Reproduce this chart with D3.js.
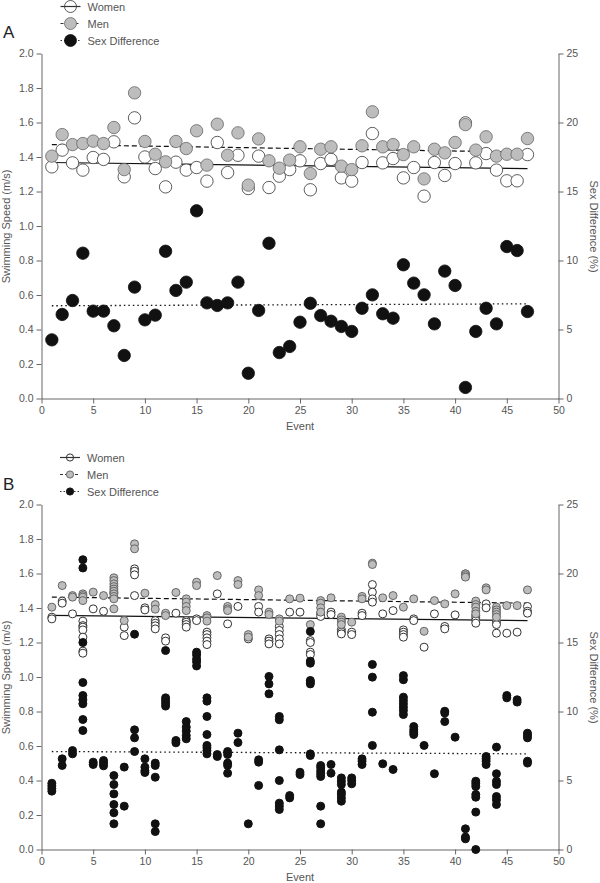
<!DOCTYPE html>
<meta charset="utf-8">
<style>
body { margin: 0; background: #fff; }
svg { display: block; font-family: "Liberation Sans", Arial, sans-serif; }
.axis path, .axis line { stroke: #666; stroke-width: 1; }
.axis text { fill: #555; font-size: 10.5px; }
.lbl { fill: #555; font-size: 11px; }
</style>
<body>
<script src="https://d3js.org/d3.v7.min.js"></script>
<script>

// ---- data ----
var events = d3.range(1, 48);

// panel A: one value per event
var womenA = [1.343, 1.44, 1.366, 1.324, 1.397, 1.386, 1.488, 1.285, 1.627, 1.40, 1.333, 1.227, 1.37, 1.324, 1.339, 1.26,
  1.484, 1.31, 1.41, 1.217, 1.405, 1.223, 1.289, 1.327, 1.378, 1.21, 1.362, 1.386, 1.279, 1.26, 1.368, 1.536,
  1.366, 1.391, 1.279, 1.339, 1.173, 1.368, 1.293, 1.362, 1.598, 1.366, 1.42, 1.324, 1.262, 1.262, 1.414];
var menA = [1.405, 1.53, 1.472, 1.478, 1.492, 1.478, 1.571, 1.327, 1.772, 1.49, 1.416, 1.372, 1.49, 1.449, 1.552, 1.353,
  1.59, 1.41, 1.54, 1.237, 1.505, 1.378, 1.335, 1.382, 1.459, 1.304, 1.445, 1.459, 1.347, 1.327, 1.465, 1.662,
  1.459, 1.472, 1.414, 1.459, 1.273, 1.445, 1.424, 1.484, 1.588, 1.44, 1.517, 1.405, 1.416, 1.416, 1.507];
var diffA = [4.25, 6.09, 7.1, 10.53, 6.33, 6.33, 5.27, 3.12, 8.07, 5.7, 6.04, 10.67, 7.83, 8.43, 13.6, 6.93,
  6.74, 6.93, 8.43, 1.83, 6.38, 11.25, 3.33, 3.77, 5.53, 6.9, 6.01, 5.6, 5.22, 4.86, 6.54, 7.51,
  6.14, 5.82, 9.69, 8.36, 7.51, 5.41, 9.23, 8.19, 0.8, 4.86, 6.54, 5.41, 11.01, 10.72, 6.3];

// panel B: several swims per event
var womenB = [[1.347, 1.337], [1.44, 1.428], [1.366], [1.324, 1.298, 1.289, 1.273, 1.231, 1.15, 1.138], [1.395],
  [1.381], [1.488], [1.289, 1.24], [1.627, 1.613, 1.592, 1.472], [1.401, 1.389], [1.327, 1.312, 1.297, 1.279],
  [1.227, 1.208], [1.37], [1.327, 1.318, 1.304, 1.289], [1.337, 1.327], [1.26, 1.246, 1.227, 1.208, 1.188],
  [1.482], [1.308], [1.409], [1.221], [1.409, 1.376], [1.221, 1.208, 1.192], [1.293, 1.27, 1.246, 1.221, 1.192],
  [1.376], [1.376], [1.211, 1.2, 1.144, 1.13], [1.366, 1.351], [1.376, 1.362], [1.275, 1.26, 1.25], [1.26, 1.246],
  [1.37, 1.356], [1.536, 1.492, 1.453, 1.434], [1.366], [1.385], [1.273, 1.26, 1.246, 1.231], [1.337, 1.327],
  [1.173], [1.366], [1.293, 1.279], [1.36], [1.598, 1.585], [1.356, 1.343, 1.327, 1.312], [1.424, 1.401],
  [1.318, 1.304, 1.254], [1.254], [1.26], [1.409, 1.381, 1.37]];
var menB = [[1.405], [1.53], [1.472, 1.463], [1.482, 1.472, 1.463, 1.443], [1.492], [1.472],
  [1.575, 1.559, 1.54, 1.524, 1.51, 1.497, 1.482, 1.467, 1.453, 1.395], [1.327], [1.772, 1.743], [1.486],
  [1.42, 1.393], [1.37, 1.356], [1.49], [1.453, 1.434, 1.409, 1.385], [1.55, 1.53], [1.356, 1.343, 1.324],
  [1.588], [1.409, 1.395, 1.385], [1.559, 1.536], [1.246, 1.231], [1.505, 1.472], [1.376, 1.362], [1.337, 1.324],
  [1.453], [1.457], [1.304], [1.443, 1.428, 1.401, 1.376], [1.459], [1.347, 1.331, 1.318, 1.304], [1.318],
  [1.467, 1.453], [1.66, 1.652], [1.459], [1.472], [1.405], [1.453], [1.265], [1.443], [1.424], [1.482],
  [1.598, 1.588, 1.579], [1.44, 1.42, 1.405, 1.381, 1.366], [1.517, 1.505], [1.405, 1.389, 1.376, 1.362, 1.347],
  [1.414], [1.414], [1.505]];
var diffB = [[4.8, 4.61, 4.42, 4.23], [6.57, 6.09], [7.17, 6.93], [21.0, 20.4, 15.0, 12.1, 11.16, 10.85, 10.56, 9.42, 8.62],
  [6.33, 6.16], [6.45, 6.26, 6.06], [5.36, 4.71, 4.03, 3.26, 2.66, 1.86], [5.97, 3.14], [15.6, 8.67, 8.09, 7.1],
  [6.57, 5.97, 5.72, 5.58], [6.26, 6.09, 5.24, 1.86, 1.3], [14.42, 10.99, 10.8, 10.6, 10.39], [7.9, 7.73],
  [9.27, 8.87, 8.58, 8.26, 8.02], [14.3, 14.1, 13.8, 13.6, 13.3], [10.99, 10.75, 9.64, 8.33, 7.54, 7.37, 7.17, 6.93],
  [6.88, 6.74], [7.1, 6.88, 6.26, 6.09, 5.53], [8.43, 7.75], [1.86], [6.5, 6.33, 4.64], [12.54, 12.0, 11.28],
  [9.64, 9.4, 7.22, 5.0, 3.36, 3.14, 2.9], [3.91, 3.74], [5.6, 5.43], [15.8, 13.65, 13.5, 12.25, 12.13, 12.0, 6.93, 6.81],
  [6.09, 5.92, 5.68, 5.49, 5.29, 3.14, 1.86], [6.16, 5.53], [5.19, 4.95, 4.71, 4.16, 3.99, 3.74, 3.5], [5.19, 5.0, 4.76],
  [6.57, 6.4, 6.16], [13.41, 12.49, 9.95, 7.54], [6.21], [5.8], [12.6, 12.3, 11.04, 10.8, 10.56, 10.31, 10.07, 9.78],
  [8.91, 8.67, 8.5, 8.33], [7.54], [5.49], [10.02, 9.89, 9.27], [8.14], [1.5, 0.9, 0.77],
  [4.95, 4.76, 4.57, 3.99, 3.79, 2.71, 0], [6.74, 6.57, 6.4, 6.16], [7.42, 5.49, 4.95, 4.71, 3.84, 3.6, 3.26],
  [11.16, 10.99], [10.85, 10.68], [8.43, 8.26, 8.09, 6.4, 6.26]];

// trend lines: value at first and last event
var trendEvents = [1, 47];
var trendA = { women: [1.368, 1.333], men: [1.472, 1.428], diff: [6.72, 6.86] };
var trendB = { women: [1.357, 1.327], men: [1.463, 1.428], diff: [7.1, 6.93] };

var legendNames = ["Women", "Men", "Sex Difference"];
var speedTicks = [0, 0.2, 0.4, 0.6, 0.8, 1.0, 1.2, 1.4, 1.6, 1.8, 2.0];
var diffTicks = [0, 5, 10, 15, 20, 25];
var eventTicks = [0, 5, 10, 15, 20, 25, 30, 35, 40, 45, 50];

// ---- drawing ----
var width = 600, height = 883;
var svg = d3.select("body").append("svg")
    .attr("width", width)
    .attr("height", height);

var x = d3.scaleLinear().domain([0, 50]).range([41.5, 558.5]);

var styles = {
  women: { fill: "#fff", stroke: "#333", dash: null },
  men: { fill: "#bdbdbd", stroke: "#666", dash: "5,3" },
  diff: { fill: "#111", stroke: "#111", dash: "1.5,3" }
};

function flatten(arr) {
  var out = [];
  arr.forEach(function(vals, i) {
    vals.forEach(function(v) { out.push({ e: events[i], v: v }); });
  });
  return out;
}

function panel(opt) {
  var g = svg.append("g");
  var y = d3.scaleLinear().domain([0, 2]).range([opt.bottom, opt.bottom - 345]);
  var y2 = d3.scaleLinear().domain([0, 25]).range([opt.bottom, opt.bottom - 345]);

  g.append("g").attr("class", "axis")
      .attr("transform", "translate(0," + opt.bottom + ")")
      .call(d3.axisBottom(x).tickValues(eventTicks).tickSize(5).tickSizeOuter(0).tickPadding(3));
  g.append("g").attr("class", "axis")
      .attr("transform", "translate(" + x(0) + ",0)")
      .call(d3.axisLeft(y).tickValues(speedTicks).tickFormat(d3.format(".1f")).tickSize(5).tickSizeOuter(0).tickPadding(3));
  g.append("g").attr("class", "axis")
      .attr("transform", "translate(" + x(50) + ",0)")
      .call(d3.axisRight(y2).tickValues(diffTicks).tickSize(5).tickSizeOuter(0).tickPadding(3));

  g.append("text").attr("class", "lbl")
      .attr("x", 300).attr("y", opt.bottom + 31).attr("text-anchor", "middle").text("Event");
  g.append("text").attr("class", "lbl")
      .attr("transform", "translate(10," + (opt.bottom - 172) + ") rotate(-90)")
      .attr("text-anchor", "middle").text("Swimming Speed (m/s)");
  g.append("text").attr("class", "lbl")
      .attr("transform", "translate(590," + (opt.bottom - 172) + ") rotate(90)")
      .attr("text-anchor", "middle").text("Sex Difference (%)");

  g.append("text").attr("x", 3).attr("y", opt.letterY)
      .style("font-size", "17px").style("fill", "#222").text(opt.letter);

  // trend lines
  var tl = d3.line().x(function(d) { return x(d[0]); }).y(function(d) { return d[1]; });
  ["women", "men", "diff"].forEach(function(k) {
    var sc = k == "diff" ? y2 : y;
    var pts = trendEvents.map(function(e, i) { return [e, sc(opt.trend[k][i])]; });
    g.append("path").attr("d", tl(pts))
        .attr("fill", "none").attr("stroke", "#111")
        .attr("stroke-width", k == "diff" ? 1.3 : 1.2)
        .attr("stroke-dasharray", styles[k].dash);
  });

  // points
  var sets = [["women", opt.women, y], ["men", opt.men, y], ["diff", opt.diff, y2]];
  sets.forEach(function(s) {
    g.append("g").selectAll("circle")
        .data(s[1])
        .enter().append("circle")
        .attr("cx", function(d) { return x(d.e); })
        .attr("cy", function(d) { return s[2](d.v); })
        .attr("r", opt.r)
        .attr("fill", styles[s[0]].fill)
        .attr("stroke", styles[s[0]].stroke)
        .attr("stroke-width", opt.sw);
  });

  // legend
  var lg = g.append("g");
  legendNames.forEach(function(name, i) {
    var k = ["women", "men", "diff"][i];
    var ly = opt.legendY + i * 17;
    lg.append("circle").attr("cx", opt.legendX).attr("cy", ly).attr("r", opt.lr)
        .attr("fill", styles[k].fill).attr("stroke", styles[k].stroke).attr("stroke-width", opt.sw);
    // the women line shows through its open marker, the others sit behind
    lg.insert("line", k == "women" ? null : "circle:last-of-type")
        .attr("x1", opt.legendX - 10).attr("x2", opt.legendX + 10)
        .attr("y1", ly).attr("y2", ly)
        .attr("stroke", "#333").attr("stroke-width", 1.2)
        .attr("stroke-dasharray", k == "women" ? null : (k == "men" ? "3,2" : "1.5,2"));
    lg.append("text").attr("class", "lbl").attr("x", opt.legendX + 17).attr("y", ly + 4).text(name);
  });
}

panel({
  bottom: 398.5, letter: "A", letterY: 38, legendX: 70.5, legendY: 6.5, lr: 6, r: 6.2, sw: 0.8,
  women: womenA.map(function(v, i) { return { e: events[i], v: v }; }),
  men: menA.map(function(v, i) { return { e: events[i], v: v }; }),
  diff: diffA.map(function(v, i) { return { e: events[i], v: v }; }),
  trend: trendA
});

panel({
  bottom: 849.5, letter: "B", letterY: 490, legendX: 70, legendY: 457.5, lr: 3.6, r: 4, sw: 1,
  women: flatten(womenB),
  men: flatten(menB),
  diff: flatten(diffB),
  trend: trendB
});

</script>
